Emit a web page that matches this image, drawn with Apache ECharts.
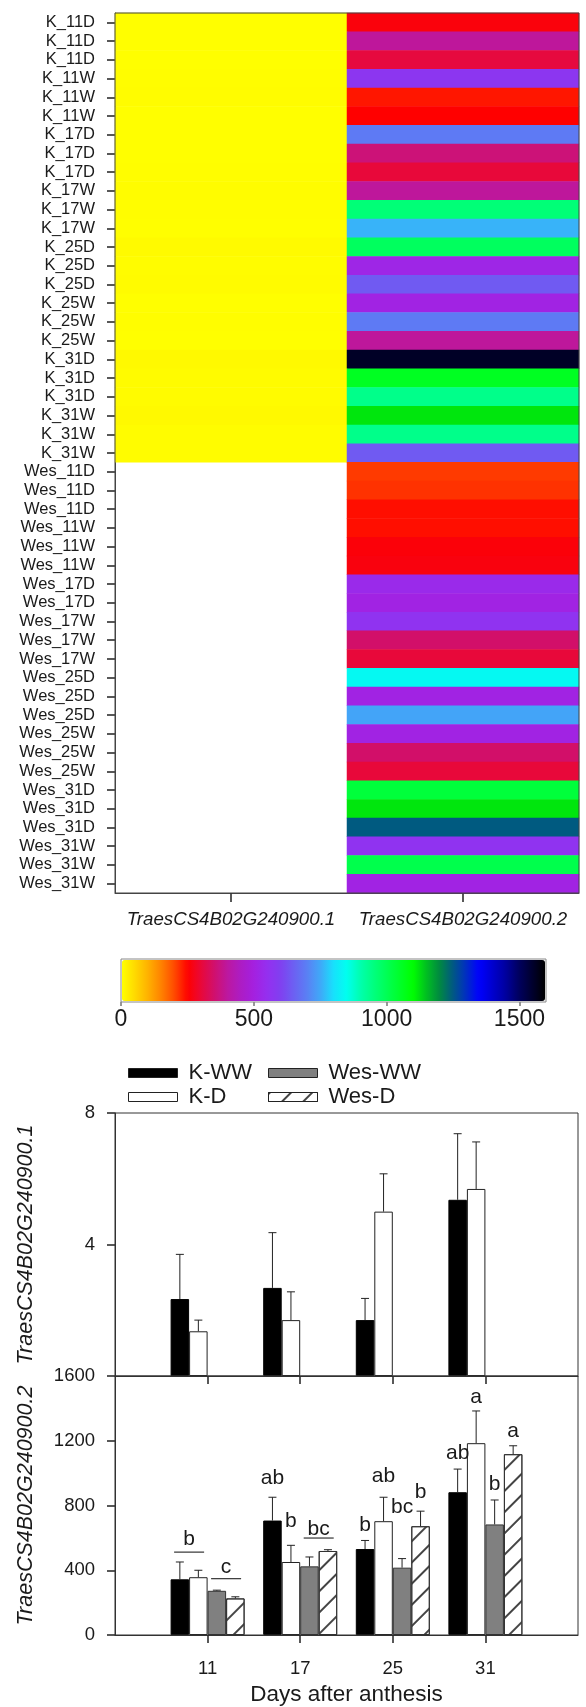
<!DOCTYPE html>
<html>
<head>
<meta charset="utf-8">
<script src="https://cdn.jsdelivr.net/npm/echarts@6/dist/echarts.min.js"></script>
<style>
  html, body { margin: 0; padding: 0; background: #fff; }
  #chart { width: 586px; height: 1707px; }
</style>
</head>
<body>
<div id="chart"></div>
<script>
// ---- heatmap data ----
const rowLabels = [
  'K_11D', 'K_11D', 'K_11D', 'K_11W', 'K_11W', 'K_11W',
  'K_17D', 'K_17D', 'K_17D', 'K_17W', 'K_17W', 'K_17W',
  'K_25D', 'K_25D', 'K_25D', 'K_25W', 'K_25W', 'K_25W',
  'K_31D', 'K_31D', 'K_31D', 'K_31W', 'K_31W', 'K_31W',
  'Wes_11D', 'Wes_11D', 'Wes_11D', 'Wes_11W', 'Wes_11W', 'Wes_11W',
  'Wes_17D', 'Wes_17D', 'Wes_17W', 'Wes_17W', 'Wes_17W',
  'Wes_25D', 'Wes_25D', 'Wes_25D', 'Wes_25W', 'Wes_25W', 'Wes_25W',
  'Wes_31D', 'Wes_31D', 'Wes_31D', 'Wes_31W', 'Wes_31W', 'Wes_31W'
];
const geneCols = ['TraesCS4B02G240900.1', 'TraesCS4B02G240900.2'];
// transcript .1 only measured in K rows (Wes rows are empty)
const exprTranscript1 = [
  1.1, 1.3, 1.7, 2.0, 3.9, 1.1,
  1.9, 0.9, 2.3, 4.4, 2.1, 1.5,
  6.2, 4.3, 4.5, 1.2, 2.5, 1.4,
  7.1, 4.9, 5.1, 7.5, 4.2, 4.4
];
const exprTranscript2 = [
  260, 395, 305, 570, 235, 250,
  690, 360, 300, 395, 960, 760,
  990, 520, 640, 510, 690, 395,
  1560, 1060, 940, 1120, 940, 640,
  210, 215, 240, 240, 258, 262,
  530, 510, 560, 345, 300,
  840, 510, 745, 510, 345, 300,
  1030, 1120, 1250, 560, 1010, 510
];
const scaleTicks = [0, 500, 1000, 1500];

// ---- bar chart data ----
const days = ['11', '17', '25', '31'];
const seriesNames = ['K-WW', 'K-D', 'Wes-WW', 'Wes-D'];
// TraesCS4B02G240900.1 (top panel)
const t1KWW = [2.34, 2.68, 1.70, 5.36];
const t1KWWErr = [1.36, 1.68, 0.66, 2.01];
const t1KD = [1.36, 1.70, 5.00, 5.69];
const t1KDErr = [0.34, 0.86, 1.15, 1.43];
// TraesCS4B02G240900.2 (bottom panel)
const t2KWW = [344, 707, 531, 882];
const t2KWWErr = [107, 144, 53, 143];
const t2KD = [357, 451, 703, 1185];
const t2KDErr = [43, 103, 148, 199];
const t2WesWW = [273, 424, 416, 683];
const t2WesWWErr = [4, 58, 56, 151];
const t2WesD = [226, 519, 672, 1117];
const t2WesDErr = [10, 8, 93, 52];
// significance letters, per series and day, with the value they sit at
const t2Letters = [
  ['', 'ab', 'b', 'ab'],
  ['', 'b', 'ab', 'a'],
  ['', '', 'bc', 'b'],
  ['', '', 'b', 'a']
];
const t2LetterAt = [
  [null, 968, 677, 1123],
  [null, 701, 984, 1466],
  [null, null, 789, 933],
  [null, null, 882, 1261]
];
// letters shared by a pair of bars: [text, day index, pair (0 = K, 1 = Wes), text value, line value]
const t2PairLetters = [
  ['b', 0, 0, 594, 512],
  ['c', 0, 1, 420, 348],
  ['bc', 1, 1, 656, 599]
];

const FONT = '"Liberation Sans", Arial, sans-serif';
const INK = '#1a1a1a';
const BAR_W = 18.5;
// colour ramp, one stop every 50 units from 0 to 1600
const scaleColors = [
  '#ffff00', '#ffd800', '#ffb000', '#ff8000', '#ff4800', '#ff0000', '#e8083a', '#d0106e',
  '#bc18a0', '#ac1cc4', '#a420e0', '#9430f0', '#8040f0', '#6c60f2', '#5a80f4', '#40a8f8',
  '#18e0fc', '#00fff0', '#00ffb0', '#00ff80', '#00ff55', '#00ff2a', '#00ff00', '#00c020',
  '#008a40', '#005a80', '#0030c0', '#0000ff', '#0000d0', '#0000a0', '#000060', '#000030',
  '#000000'
];

const heatData = [];
rowLabels.forEach((r, i) => {
  if (exprTranscript1[i] != null) heatData.push([0, i, exprTranscript1[i]]);
  heatData.push([1, i, exprTranscript2[i]]);
});

const xCats = [''].concat(days, ['']);
const barStyles = [
  { color: '#000', borderColor: '#000', borderWidth: 1 },
  { color: '#fff', borderColor: '#222', borderWidth: 1 },
  { color: '#808080', borderColor: '#333', borderWidth: 1 },
  {
    color: '#fff', borderColor: '#333', borderWidth: 1,
    decal: { symbol: 'rect', symbolSize: 1, color: '#444', dashArrayX: [1, 0], dashArrayY: [1.2, 13], rotation: -Math.PI / 4 }
  }
];
const plain = v => String(v);

function barSeries(s, values, axis) {
  return {
    name: seriesNames[s], type: 'bar', xAxisIndex: axis, yAxisIndex: axis,
    barWidth: BAR_W, barGap: '0%',
    data: values ? values.map((v, i) => [i + 1, v]) : [],
    itemStyle: barStyles[s], emphasis: { disabled: true }, z: 2
  };
}

function errSeries(sets, axis) {
  const rows = [];
  sets.forEach(([vals, errs, slot]) => {
    vals.forEach((v, i) => rows.push([i + 1, v, v + errs[i], slot]));
  });
  return {
    type: 'custom', xAxisIndex: axis, yAxisIndex: axis, z: 4, silent: true,
    data: rows,
    renderItem(params, api) {
      const base = api.coord([api.value(0), api.value(1)]);
      const top = api.coord([api.value(0), api.value(2)]);
      const x = base[0] + (api.value(3) - 1.5) * BAR_W;
      const st = { stroke: '#222', lineWidth: 1 };
      return {
        type: 'group', children: [
          { type: 'line', shape: { x1: x, y1: base[1], x2: x, y2: top[1] }, style: st },
          { type: 'line', shape: { x1: x - 4, y1: top[1], x2: x + 4, y2: top[1] }, style: st }
        ]
      };
    }
  };
}

const letterItems = [];
t2Letters.forEach((row, s) => row.forEach((t, d) => {
  if (t) letterItems.push({ text: t, day: d, slot: s, at: t2LetterAt[s][d] });
}));
t2PairLetters.forEach(([t, d, pair, at, lineAt]) => {
  letterItems.push({ text: t, day: d, slot: pair * 2 + 0.5, at: at, lineAt: lineAt });
});

const tick = (len, color) => ({ show: true, length: len, lineStyle: { color: color, width: 1.5 } });

const option = {
  animation: false,
  backgroundColor: '#fff',
  textStyle: { fontFamily: FONT, color: INK },
  grid: [
    { left: 115, top: 13, width: 464, height: 880, show: true, z: 10, backgroundColor: 'transparent', borderColor: '#444', borderWidth: 1 },
    { left: 121, top: 959, width: 425, height: 43, show: true, z: 10, backgroundColor: 'transparent', borderColor: '#888', borderWidth: 1 },
    { left: 115, top: 1113, width: 463, height: 263, show: true, z: 10, backgroundColor: 'transparent', borderColor: '#333', borderWidth: 1 },
    { left: 115, top: 1376, width: 463, height: 261, show: true, z: 10, backgroundColor: 'transparent', borderColor: '#333', borderWidth: 1 }
  ],
  xAxis: [
    {
      type: 'category', gridIndex: 0, data: geneCols,
      axisLine: { lineStyle: { color: '#444' } },
      axisTick: Object.assign(tick(9, '#222'), { alignWithLabel: true }),
      axisLabel: { interval: 0, hideOverlap: false, fontSize: 18.7, fontStyle: 'italic', color: INK, margin: 17, fontFamily: FONT }
    },
    {
      type: 'value', gridIndex: 1, min: 0, max: 1600,
      splitLine: { show: false }, axisLine: { show: false },
      axisTick: Object.assign(tick(4, '#777'), { customValues: scaleTicks }),
      axisLabel: { customValues: scaleTicks, formatter: plain, fontSize: 23, color: INK, margin: 6, fontFamily: FONT }
    },
    {
      type: 'category', gridIndex: 2, data: xCats, boundaryGap: false,
      axisLine: { lineStyle: { color: '#333' } },
      axisTick: Object.assign(tick(8, '#222'), { interval: (i, v) => v !== '' }),
      axisLabel: { show: false }
    },
    {
      type: 'category', gridIndex: 3, data: xCats, boundaryGap: false,
      axisLine: { lineStyle: { color: '#333' } },
      axisTick: Object.assign(tick(8, '#222'), { interval: (i, v) => v !== '' }),
      axisLabel: { fontSize: 18.5, color: INK, margin: 24, interval: 0, fontFamily: FONT },
      name: 'Days after anthesis', nameLocation: 'middle', nameGap: 48,
      nameTextStyle: { fontSize: 22.5, color: INK, fontFamily: FONT }
    }
  ],
  yAxis: [
    {
      type: 'category', gridIndex: 0, data: rowLabels, inverse: true,
      axisLine: { lineStyle: { color: '#444' } },
      axisTick: Object.assign(tick(8, '#222'), { alignWithLabel: true, interval: 0 }),
      axisLabel: { fontSize: 16.5, color: INK, margin: 20, interval: 0, fontFamily: FONT }
    },
    { type: 'value', gridIndex: 1, show: false, min: 0, max: 1 },
    {
      type: 'value', gridIndex: 2, min: 0, max: 8, interval: 4,
      splitLine: { show: false },
      axisLine: { show: true, lineStyle: { color: '#333' } },
      axisTick: tick(8, '#222'),
      axisLabel: { showMinLabel: false, formatter: plain, fontSize: 18.5, color: INK, margin: 20, fontFamily: FONT },
      name: geneCols[0], nameLocation: 'middle', nameGap: 78,
      nameTextStyle: { fontSize: 21.5, fontStyle: 'italic', color: INK, fontFamily: FONT }
    },
    {
      type: 'value', gridIndex: 3, min: 0, max: 1600, interval: 400,
      splitLine: { show: false },
      axisLine: { show: true, lineStyle: { color: '#333' } },
      axisTick: tick(8, '#222'),
      axisLabel: { formatter: plain, fontSize: 18.5, color: INK, margin: 20, fontFamily: FONT },
      name: geneCols[1], nameLocation: 'middle', nameGap: 78,
      nameTextStyle: { fontSize: 21.5, fontStyle: 'italic', color: INK, fontFamily: FONT }
    }
  ],
  visualMap: {
    type: 'continuous', seriesIndex: 0, min: 0, max: 1600,
    orient: 'horizontal', left: 122, top: 960, itemWidth: 41, itemHeight: 423,
    calculable: false, hoverLink: false, padding: 0,
    inRange: { color: scaleColors }
  },
  legend: [
    {
      left: 128, top: 1062, orient: 'vertical', padding: 0, itemGap: 2,
      itemWidth: 49, itemHeight: 9, icon: 'rect', selectedMode: false,
      data: ['K-WW', 'K-D'],
      itemStyle: { borderColor: '#222', borderWidth: 1 },
      textStyle: { fontSize: 22, color: INK, fontFamily: FONT, lineHeight: 22, padding: [0, 0, 0, 6] }
    },
    {
      left: 268, top: 1062, orient: 'vertical', padding: 0, itemGap: 2,
      itemWidth: 49, itemHeight: 9, icon: 'rect', selectedMode: false,
      data: ['Wes-WW', 'Wes-D'],
      itemStyle: { borderColor: '#222', borderWidth: 1 },
      textStyle: { fontSize: 22, color: INK, fontFamily: FONT, lineHeight: 22, padding: [0, 0, 0, 6] }
    }
  ],
  series: [
    {
      type: 'heatmap', xAxisIndex: 0, yAxisIndex: 0, data: heatData,
      itemStyle: { borderWidth: 0 }, emphasis: { disabled: true }, progressive: 0
    },
    { type: 'line', xAxisIndex: 1, yAxisIndex: 1, data: [], silent: true },
    barSeries(0, t1KWW, 2),
    barSeries(1, t1KD, 2),
    barSeries(2, null, 2),
    barSeries(3, null, 2),
    errSeries([[t1KWW, t1KWWErr, 0], [t1KD, t1KDErr, 1]], 2),
    barSeries(0, t2KWW, 3),
    barSeries(1, t2KD, 3),
    barSeries(2, t2WesWW, 3),
    barSeries(3, t2WesD, 3),
    errSeries([[t2KWW, t2KWWErr, 0], [t2KD, t2KDErr, 1], [t2WesWW, t2WesWWErr, 2], [t2WesD, t2WesDErr, 3]], 3),
    {
      type: 'custom', xAxisIndex: 3, yAxisIndex: 3, z: 5, silent: true,
      data: letterItems.map(d => [d.day + 1, d.at, d.slot]),
      renderItem(params, api) {
        const item = letterItems[params.dataIndex];
        const p = api.coord([api.value(0), api.value(1)]);
        const x = p[0] + (api.value(2) - 1.5) * BAR_W;
        const children = [{
          type: 'text', x: x, y: p[1],
          style: { text: item.text, fontSize: 21, fontFamily: FONT, fill: INK, align: 'center', verticalAlign: 'middle' }
        }];
        if (item.lineAt != null) {
          const ly = api.coord([api.value(0), item.lineAt])[1];
          children.push({ type: 'line', shape: { x1: x - 15, y1: ly, x2: x + 15, y2: ly }, style: { stroke: '#333', lineWidth: 1.2 } });
        }
        return { type: 'group', children: children };
      }
    }
  ]
};

const chart = echarts.init(document.getElementById('chart'));
chart.setOption(option);
</script>
</body>
</html>
